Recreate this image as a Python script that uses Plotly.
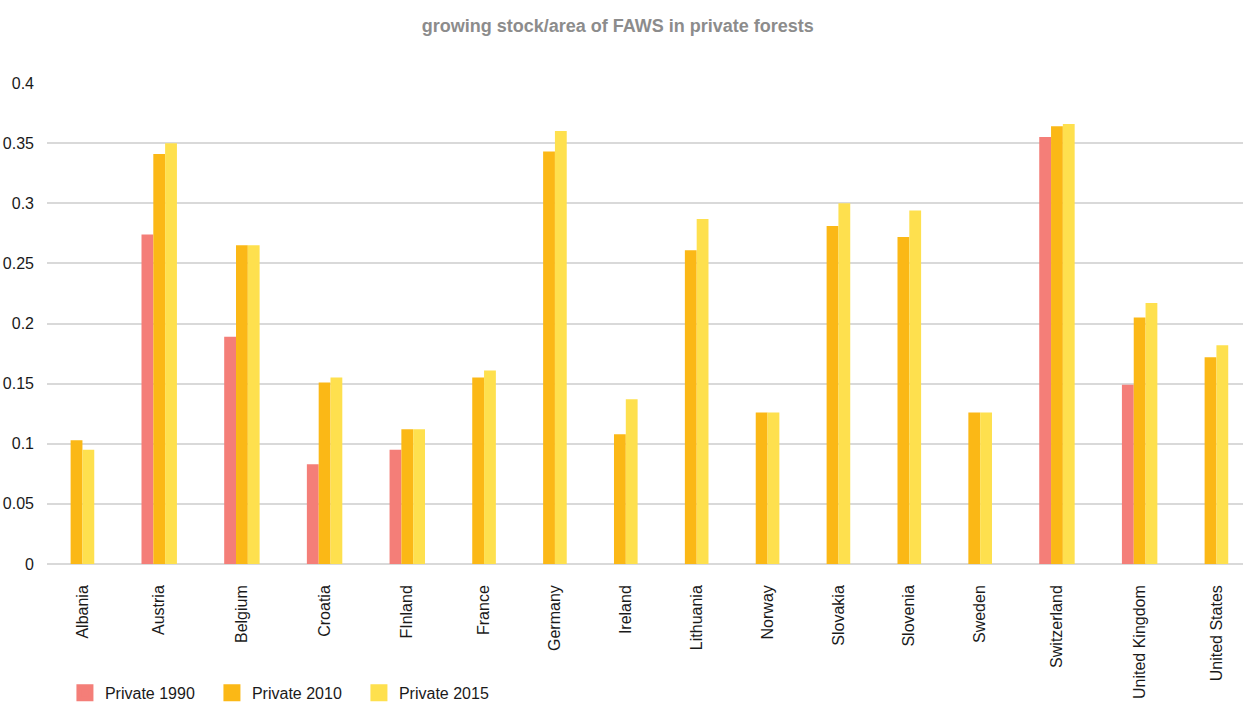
import plotly.graph_objects as go

categories = ["Albania", "Austria", "Belgium", "Croatia", "FInland", "France", "Germany",
              "Ireland", "Lithuania", "Norway", "Slovakia", "Slovenia", "Sweden",
              "Switzerland", "United Kingdom", "United States"]
private_1990 = [None, 0.274, 0.189, 0.083, 0.095, None, None, None, None, None, None,
                None, None, 0.355, 0.149, None]
private_2010 = [0.103, 0.341, 0.265, 0.151, 0.112, 0.155, 0.343, 0.108, 0.261, 0.126,
                0.281, 0.272, 0.126, 0.364, 0.205, 0.172]
private_2015 = [0.095, 0.350, 0.265, 0.155, 0.112, 0.161, 0.360, 0.137, 0.287, 0.126,
                0.300, 0.294, 0.126, 0.366, 0.217, 0.182]
series_names = ["Private 1990", "Private 2010", "Private 2015"]
series_colors = ["#F47E78", "#FBB816", "#FEE04E"]

series = [private_1990, private_2010, private_2015]

# Category slots: each category is as wide as the bars it has plus a fixed gap
GAP = 4.0
centers, xs = [], [[None] * len(categories) for _ in series]
pos = 0.0
for i in range(len(categories)):
    present = [s for s in range(len(series)) if series[s][i] is not None]
    n = len(present)
    c = pos + (n + GAP) / 2
    centers.append(c)
    for k, s in enumerate(present):
        xs[s][i] = c - n / 2 + k + 0.5
    pos += n + GAP
total = pos

font_family = "Liberation Sans, Arial, sans-serif"

fig = go.Figure()
for s, name in enumerate(series_names):
    fig.add_trace(go.Bar(x=xs[s], y=series[s], width=1.0, name=name,
                         marker=dict(color=series_colors[s], line=dict(width=0)),
                         showlegend=False))
    # legend entry with a larger swatch
    fig.add_trace(go.Bar(x=[None], y=[None], name=name,
                         marker=dict(color=series_colors[s],
                                     line=dict(color=series_colors[s], width=5))))

fig.update_layout(
    width=1243, height=704,
    barmode="overlay",
    paper_bgcolor="white", plot_bgcolor="white",
    margin=dict(l=47, r=0, t=83, b=140, autoexpand=False),
    font=dict(family=font_family, size=16, color="#1a1a1a"),
    title=dict(text="<b>growing stock/area of FAWS in private forests</b>",
               x=0.497, xanchor="center", y=0.963, yanchor="middle",
               font=dict(family=font_family, size=18, color="#8C8C8C")),
    xaxis=dict(range=[0, total - 0.75], tickmode="array", tickvals=centers,
               ticktext=categories, tickangle=-90, showgrid=False, zeroline=False,
               showline=False, ticks="", ticklabelstandoff=17,
               tickfont=dict(size=16, color="#1a1a1a")),
    yaxis=dict(range=[0, 0.4], dtick=0.05, tick0=0, showgrid=True,
               gridcolor="#D9D9D9", gridwidth=1.5, zeroline=True,
               zerolinecolor="#D9D9D9", zerolinewidth=1.5, showline=False,
               ticks="", ticklabelstandoff=12,
               tickfont=dict(size=16, color="#1a1a1a")),
    legend=dict(orientation="h", x=0.015, xanchor="left", y=-0.268, yanchor="middle",
                entrywidth=102, entrywidthmode="pixels",
                font=dict(size=16, color="#1a1a1a"), bgcolor="rgba(0,0,0,0)"),
)

fig.write_html("out.html")
